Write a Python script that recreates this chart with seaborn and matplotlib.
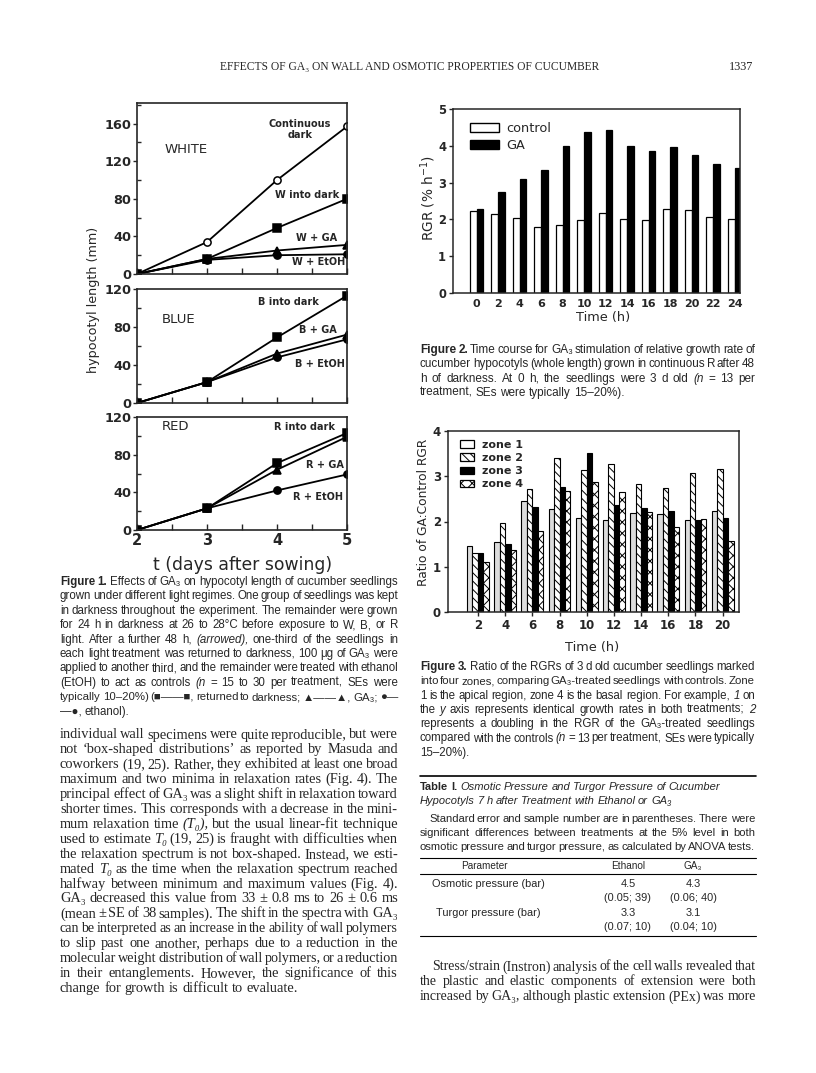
import numpy as np
import pandas as pd
import matplotlib
matplotlib.use('Agg')
import matplotlib.pyplot as plt
from matplotlib.lines import Line2D
from matplotlib.patches import Patch
from matplotlib.ticker import MultipleLocator
import seaborn as sns

sns.set_style('ticks')
plt.rcParams['font.family'] = ['DejaVu Sans']
plt.rcParams['hatch.linewidth'] = 0.7

W, H = 816, 1073

# ---- Figure 1 data: hypocotyl length (mm) vs days after sowing ----
days = [2, 3, 4, 5]
white_cont_dark = [0, 34, 100, 157]
white_into_dark = [0, 16, 49, 80]
white_ga = [0, 16, 25, 31]
white_etoh = [0, 15, 20, 21]
blue_into_dark = [0, 22, 69, 113]
blue_ga = [0, 22, 52, 72]
blue_etoh = [0, 22, 48, 67]
red_into_dark = [0, 23, 71, 103]
red_ga = [0, 23, 64, 99]
red_etoh = [0, 23, 42, 59]

# ---- Figure 2 data: RGR (% per h) ----
fig2_hours = [0, 2, 4, 6, 8, 10, 12, 14, 16, 18, 20, 22, 24]
fig2_control = [2.23, 2.15, 2.03, 1.79, 1.85, 1.99, 2.17, 2.01, 1.99, 2.29, 2.26, 2.07, 2.02]
fig2_ga = [2.27, 2.74, 3.10, 3.33, 3.99, 4.37, 4.43, 4.00, 3.87, 3.96, 3.74, 3.50, 3.41]

# ---- Figure 3 data: ratio of GA:control RGR per zone ----
fig3_hours = [2, 4, 6, 8, 10, 12, 14, 16, 18, 20]
zone1 = [1.45, 1.54, 2.45, 2.27, 2.07, 2.03, 2.19, 2.17, 2.03, 2.24]
zone2 = [1.30, 1.96, 2.71, 3.41, 3.13, 3.28, 2.83, 2.73, 3.08, 3.16]
zone3 = [1.31, 1.50, 2.31, 2.77, 3.52, 2.36, 2.29, 2.24, 2.03, 2.07]
zone4 = [1.11, 1.36, 1.80, 2.67, 2.88, 2.66, 2.22, 1.87, 2.05, 1.56]

fig = plt.figure(figsize=(W / 100, H / 100), dpi=100)
rend = fig.canvas.get_renderer()

SANS = ['Liberation Sans', 'DejaVu Sans']
SERIF = ['Liberation Serif', 'DejaVu Serif']
PX = 100 / 72  # pixels per point


def px_axes(x0, y0, x1, y1):
    return fig.add_axes([x0 / W, 1 - y1 / H, (x1 - x0) / W, (y1 - y0) / H])


def ftext(x, y, s, **kw):
    return fig.text(x / W, 1 - y / H, s, **kw)


def hrule(x0, x1, y, lw=0.8):
    fig.add_artist(Line2D([x0 / W, x1 / W], [1 - y / H, 1 - y / H],
                          transform=fig.transFigure, color='black', lw=lw))


def make_words(line, y, size, family):
    # '!' marks a bold word, '~' an italic one
    words = []
    for tok in line.split():
        kw = {}
        if tok.startswith('!'):
            tok, kw = tok[1:], {'fontweight': 'bold'}
        elif tok.startswith('~'):
            tok, kw = tok[1:], {'fontstyle': 'italic'}
        words.append(ftext(0, y, tok, fontsize=size, family=family, va='center', **kw))
    return words


def letters_width(line, size, family):
    words = make_words(line, 0, size, family)
    w = sum(t.get_window_extent(rend).width for t in words)
    for t in words:
        t.remove()
    return w, len(words) - 1


def text_line(line, x0, x1, y, size, family, justify=True):
    words = make_words(line, y, size, family)
    widths = [t.get_window_extent(rend).width for t in words]
    space = size * 0.26 * PX
    if justify and len(words) > 1:
        space = max(1.0, (x1 - x0 - sum(widths)) / (len(words) - 1))
    x = x0
    for t, w in zip(words, widths):
        t.set_x(x / W)
        x += w + space


def paragraph(lines, x0, x1, y0, dy, size, family, indent=0, last_left=True,
              pct=20, min_space=0.14):
    # font size at which each justified line fits with tight word spacing;
    # the paragraph uses a low percentile of these, and lines that still
    # overflow are set a touch smaller
    fits = {}
    for i, line in enumerate(lines):
        if last_left and i == len(lines) - 1:
            continue
        avail = x1 - x0 - (indent if i == 0 else 0)
        lw, gaps = letters_width(line, size, family)
        fits[i] = avail / (lw / size + gaps * min_space * PX)
    base = np.percentile(list(fits.values()), pct) * 0.99 if fits else size
    for i, line in enumerate(lines):
        last = last_left and i == len(lines) - 1
        lsize = base if last else min(base, fits[i] * 0.995)
        text_line(line, x0 + (indent if i == 0 else 0), x1, y0 + i * dy, lsize, family,
                  justify=not last)


# ---------------- header ----------------
ftext(410, 67, 'EFFECTS OF GA₃ ON WALL AND OSMOTIC PROPERTIES OF CUCUMBER',
      fontsize=8.3, family=SERIF, ha='center', va='center')
ftext(753, 67, '1337', fontsize=8.8, family=SERIF, ha='right', va='center')

# ---------------- Figure 1 ----------------
def panel(ax, series, ymax, yticks, labels):
    for vals, marker, mfc in series:
        sns.lineplot(x=days, y=vals, ax=ax, color='black', lw=1.3, marker=marker,
                     markersize=5.2, markerfacecolor=mfc, markeredgecolor='black',
                     markeredgewidth=1.1)
    ax.set_xlim(2, 5)
    ax.set_ylim(0, ymax)
    ax.set_xticks(days)
    ax.set_yticks(yticks)
    ax.xaxis.set_minor_locator(MultipleLocator(0.5))
    ax.yaxis.set_minor_locator(MultipleLocator(20))
    ax.tick_params(axis='x', which='both', direction='in', length=4, width=1)
    ax.tick_params(axis='y', which='major', direction='out', length=3, width=1, pad=1)
    ax.tick_params(axis='y', which='minor', direction='in', length=3, width=1)
    ax.set_yticklabels([str(v) for v in yticks], fontsize=9.3, fontweight='bold')
    ax.set_xticklabels([])
    ax.set_xlabel('')
    ax.set_ylabel('')
    for sp in ax.spines.values():
        sp.set_visible(True)
        sp.set_linewidth(1.2)
    for x, y, s, ha, kw in labels:
        ax.text(x, y, s, ha=ha, va='center', **kw)


lab = dict(fontsize=7.0, fontweight='bold', linespacing=1.1)
big = dict(fontsize=9.5)

ax_w = px_axes(137, 103, 347, 274)
panel(ax_w, [(white_cont_dark, 'o', 'white'), (white_into_dark, 's', 'black'),
             (white_ga, '^', 'black'), (white_etoh, 'o', 'black')],
      182, [0, 40, 80, 120, 160],
      [(4.33, 154, 'Continuous\ndark', 'center', lab), (2.4, 133, 'WHITE', 'left', big),
       (4.43, 84, 'W into dark', 'center', lab), (4.57, 38, 'W + GA', 'center', lab),
       (4.59, 13, 'W + EtOH', 'center', lab)])

ax_b = px_axes(137, 289, 347, 403)
panel(ax_b, [(blue_into_dark, 's', 'black'), (blue_ga, '^', 'black'),
             (blue_etoh, 'o', 'black')],
      120, [0, 40, 80, 120],
      [(4.17, 106, 'B into dark', 'center', lab), (2.36, 88, 'BLUE', 'left', big),
       (4.59, 77, 'B + GA', 'center', lab), (4.61, 41, 'B + EtOH', 'center', lab)])

ax_r = px_axes(137, 417, 347, 530)
panel(ax_r, [(red_into_dark, 's', 'black'), (red_ga, '^', 'black'),
             (red_etoh, 'o', 'black')],
      120, [0, 40, 80, 120],
      [(4.4, 109, 'R into dark', 'center', lab), (2.36, 110, 'RED', 'left', big),
       (4.69, 69, 'R + GA', 'center', lab), (4.59, 35, 'R + EtOH', 'center', lab)])
ax_r.set_xticklabels([str(d) for d in days], fontsize=10.5, fontweight='bold')
ax_r.tick_params(axis='x', pad=2)

ftext(93, 300, 'hypocotyl length (mm)', rotation=90, fontsize=9.2, ha='center', va='center')
ftext(243, 565, 't (days after sowing)', fontsize=12.4, ha='center', va='center')

cap1 = [
    '!Figure !1. Effects of GA₃ on hypocotyl length of cucumber seedlings',
    'grown under different light regimes. One group of seedlings was kept',
    'in darkness throughout the experiment. The remainder were grown',
    'for 24 h in darkness at 26 to 28°C before exposure to W, B, or R',
    'light. After a further 48 h, ~(arrowed), one-third of the seedlings in',
    'each light treatment was returned to darkness, 100 μg of GA₃ were',
    'applied to another third, and the remainder were treated with ethanol',
    '(EtOH) to act as controls ~(n = 15 to 30 per treatment, SEs were',
    'typically 10–20%) (■——■, returned to darkness; ▲——▲, GA₃; ●—',
    '—●, ethanol).',
]
paragraph(cap1, 60, 398, 582, 14.4, 7.4, SANS)

body_left = [
    'individual wall specimens were quite reproducible, but were',
    'not ‘box-shaped distributions’ as reported by Masuda and',
    'coworkers (19, 25). Rather, they exhibited at least one broad',
    'maximum and two minima in relaxation rates (Fig. 4). The',
    'principal effect of GA₃ was a slight shift in relaxation toward',
    'shorter times. This corresponds with a decrease in the mini-',
    'mum relaxation time ~(T₀), but the usual linear-fit technique',
    'used to estimate ~T₀ (19, 25) is fraught with difficulties when',
    'the relaxation spectrum is not box-shaped. Instead, we esti-',
    'mated ~T₀ as the time when the relaxation spectrum reached',
    'halfway between minimum and maximum values (Fig. 4).',
    'GA₃ decreased this value from 33 ± 0.8 ms to 26 ± 0.6 ms',
    '(mean ± SE of 38 samples). The shift in the spectra with GA₃',
    'can be interpreted as an increase in the ability of wall polymers',
    'to slip past one another, perhaps due to a reduction in the',
    'molecular weight distribution of wall polymers, or a reduction',
    'in their entanglements. However, the significance of this',
    'change for growth is difficult to evaluate.',
]
paragraph(body_left, 60, 398, 735, 14.9, 9.3, SERIF)

# ---------------- Figure 2 ----------------
df2 = pd.DataFrame({'hour': fig2_hours * 2,
                    'rgr': fig2_control + fig2_ga,
                    'treatment': ['control'] * len(fig2_hours) + ['GA'] * len(fig2_hours)})
ax2 = px_axes(453, 109, 740, 293)
sns.barplot(data=df2, x='hour', y='rgr', hue='treatment',
            palette={'control': 'white', 'GA': 'black'}, edgecolor='black',
            linewidth=0.9, width=0.62, ax=ax2, legend=False)
ax2.set_xlim(-1.1, 12.25)
ax2.set_ylim(0, 5)
ax2.set_yticks(range(6))
ax2.set_yticklabels([str(v) for v in range(6)], fontsize=8.3, fontweight='bold')
ax2.set_xticklabels([str(h) for h in fig2_hours], fontsize=8.0, fontweight='bold')
ax2.tick_params(axis='x', length=0, pad=4)
ax2.tick_params(axis='y', direction='out', length=3, width=1, pad=2)
ax2.set_xlabel('')
ax2.set_ylabel('')
for sp in ax2.spines.values():
    sp.set_visible(True)
    sp.set_linewidth(1.1)
ax2.legend(handles=[Patch(fc='white', ec='black', lw=1), Patch(fc='black', ec='black', lw=1)],
           labels=['control', 'GA'], loc='upper left', bbox_to_anchor=(0.04, 0.955),
           frameon=False, fontsize=9.3, handlelength=2.3, handleheight=0.7,
           handletextpad=0.5, labelspacing=0.3, borderaxespad=0)
ftext(428, 198, 'RGR (% h$^{-1}$)', rotation=90, fontsize=9.8, ha='center', va='center')
ftext(603, 318, 'Time (h)', fontsize=9.3, ha='center', va='center')

cap2 = [
    '!Figure !2. Time course for GA₃ stimulation of relative growth rate of',
    'cucumber hypocotyls (whole length) grown in continuous R after 48',
    'h of darkness. At 0 h, the seedlings were 3 d old ~(n = 13 per',
    'treatment, SEs were typically 15–20%).',
]
paragraph(cap2, 420, 755, 350, 14.3, 7.4, SANS)

# ---------------- Figure 3 ----------------
zones = ['zone 1', 'zone 2', 'zone 3', 'zone 4']
df3 = pd.DataFrame({'hour': fig3_hours * 4,
                    'ratio': zone1 + zone2 + zone3 + zone4,
                    'zone': sum([[z] * len(fig3_hours) for z in zones], [])})
ax3 = px_axes(448, 431, 739, 612)
sns.barplot(data=df3, x='hour', y='ratio', hue='zone', hue_order=zones,
            palette=['white'] * 4, edgecolor='black', linewidth=0.8,
            width=0.8, ax=ax3, legend=False)
styles = [('#dcdcdc', ''), ('white', '\\\\\\\\'), ('black', ''), ('white', 'xxx')]
for cont, (fc, hatch) in zip(ax3.containers, styles):
    for p in cont:
        p.set_facecolor(fc)
        p.set_hatch(hatch)
ax3.set_xlim(-1.1, 9.6)
ax3.set_ylim(0, 4)
ax3.set_yticks(range(5))
ax3.set_yticklabels([str(v) for v in range(5)], fontsize=8.5, fontweight='bold')
ax3.set_xticklabels([str(h) for h in fig3_hours], fontsize=8.5, fontweight='bold')
ax3.tick_params(axis='x', direction='out', length=3, width=1, pad=2)
ax3.tick_params(axis='y', direction='out', length=3, width=1, pad=2)
ax3.set_xlabel('')
ax3.set_ylabel('')
for sp in ax3.spines.values():
    sp.set_visible(True)
    sp.set_linewidth(1.1)
leg_h = [Patch(fc='white', ec='black', lw=0.9), Patch(fc='white', ec='black', hatch='\\\\\\\\', lw=0.9),
         Patch(fc='black', ec='black', lw=0.9), Patch(fc='white', ec='black', hatch='xxx', lw=0.9)]
ax3.legend(handles=leg_h, labels=zones, loc='upper left', bbox_to_anchor=(0.025, 0.975),
           frameon=False, prop={'size': 8, 'weight': 'bold'}, handlelength=1.3,
           handleheight=0.65, handletextpad=0.7, labelspacing=0.28, borderaxespad=0)
ftext(423, 512, 'Ratio of GA:Control RGR', rotation=90, fontsize=8.8, ha='center', va='center')
ftext(592, 648, 'Time (h)', fontsize=9.3, ha='center', va='center')

cap3 = [
    '!Figure !3. Ratio of the RGRs of 3 d old cucumber seedlings marked',
    'into four zones, comparing GA₃-treated seedlings with controls. Zone',
    '1 is the apical region, zone 4 is the basal region. For example, ~1 on',
    'the ~y axis represents identical growth rates in both treatments; ~2',
    'represents a doubling in the RGR of the GA₃-treated seedlings',
    'compared with the controls ~(n = 13 per treatment, SEs were typically',
    '15–20%).',
]
paragraph(cap3, 420, 755, 667, 14.3, 7.4, SANS)

# ---------------- Table I ----------------
hrule(420, 756, 776, lw=1.2)
title1 = '!Table !I. ' + ' '.join('~' + w for w in 'Osmotic Pressure and Turgor Pressure of Cucumber'.split())
title2 = ' '.join('~' + w for w in 'Hypocotyls 7 h after Treatment with Ethanol or GA₃'.split())
text_line(title1, 420, 755, 787, 8.0, SANS, justify=False)
text_line(title2, 420, 755, 801, 8.0, SANS, justify=False)
note = [
    'Standard error and sample number are in parentheses. There were',
    'significant differences between treatments at the 5% level in both',
    'osmotic pressure and turgor pressure, as calculated by ANOVA tests.',
]
paragraph(note, 420, 755, 819, 14.0, 7.4, SANS, indent=9, last_left=False)
hrule(420, 756, 858, lw=0.8)
hrule(420, 756, 874, lw=0.8)
hrule(420, 756, 936, lw=0.8)

tab_params = ['Osmotic pressure (bar)', 'Turgor pressure (bar)']
tab_ethanol = ['4.5', '3.3']
tab_ethanol_se = ['(0.05; 39)', '(0.07; 10)']
tab_ga = ['4.3', '3.1']
tab_ga_se = ['(0.06; 40)', '(0.04; 10)']
tkw = dict(fontsize=7.2, family=SANS, ha='center', va='center')
ftext(484, 866, 'Parameter', **tkw)
ftext(628, 866, 'Ethanol', **tkw)
ftext(693, 866, 'GA₃', **tkw)
rkw = dict(fontsize=7.9, family=SANS, ha='center', va='center')
for i in range(2):
    y = 884 + i * 29
    ftext(488, y, tab_params[i], **rkw)
    ftext(628, y, tab_ethanol[i], **rkw)
    ftext(693, y, tab_ga[i], **rkw)
    ftext(628, y + 14, tab_ethanol_se[i], **rkw)
    ftext(693, y + 14, tab_ga_se[i], **rkw)

body_right = [
    'Stress/strain (Instron) analysis of the cell walls revealed that',
    'the plastic and elastic components of extension were both',
    'increased by GA₃, although plastic extension (PEx) was more',
]
paragraph(body_right, 420, 756, 967, 14.9, 9.3, SERIF, indent=12, last_left=False)

fig.savefig('out.png', dpi=100)
